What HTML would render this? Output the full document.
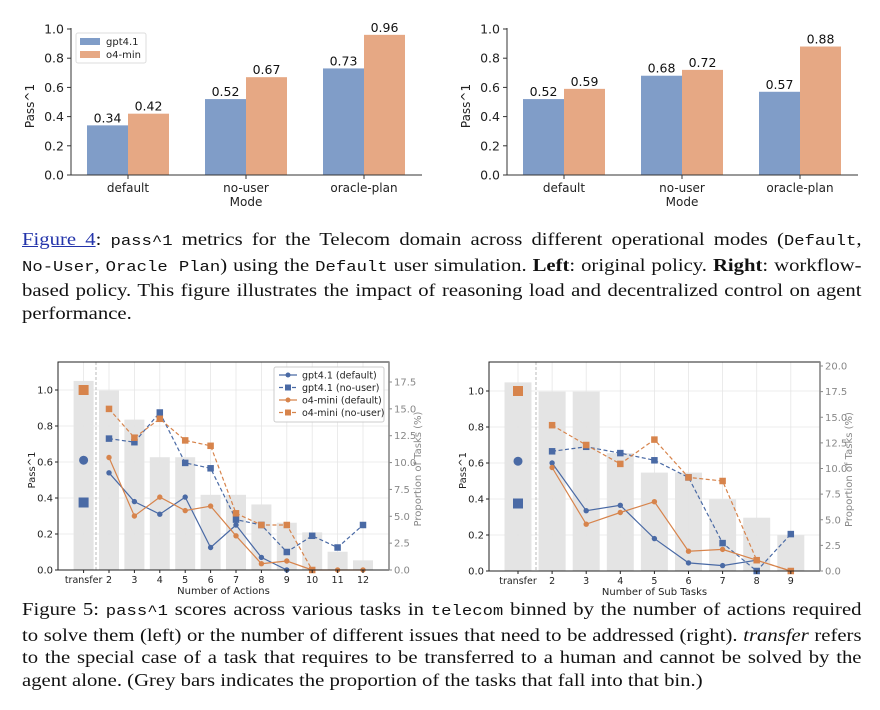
<!DOCTYPE html>
<html><head><meta charset="utf-8">
<style>
html,body{margin:0;padding:0;background:#fff;width:880px;height:710px;overflow:hidden;position:relative}
svg{position:absolute;left:0;top:0}
.cap{position:absolute;left:22px;width:730px;transform:scaleX(1.15);transform-origin:0 0;font-family:"Liberation Serif",serif;font-size:18px;color:#111;line-height:22.5px}
.cap div{text-align:justify;text-align-last:justify;white-space:nowrap}
.cap div.last{text-align-last:left}
.m{font-family:"Liberation Mono",monospace;font-size:15px}
a{color:#2233aa;text-decoration:underline}
</style></head><body>
<svg id="svg" width="880" height="710" font-family="DejaVu Sans, sans-serif"></svg>

<div class="cap" style="top:228px">
<div><a>Figure 4</a>: <span class="m">pass^1</span> metrics for the Telecom domain across different operational modes (<span class="m">Default</span>,</div>
<div><span class="m">No-User</span>, <span class="m">Oracle Plan</span>) using the <span class="m">Default</span> user simulation. <b>Left</b>: original policy. <b>Right</b>: workflow-</div>
<div>based policy. This figure illustrates the impact of reasoning load and decentralized control on agent</div>
<div class="last">performance.</div>
</div>
<div class="cap" style="top:598px">
<div>Figure 5: <span class="m">pass^1</span> scores across various tasks in <span class="m">telecom</span> binned by the number of actions required</div>
<div>to solve them (left) or the number of different issues that need to be addressed (right). <i>transfer</i> refers</div>
<div>to the special case of a task that requires to be transferred to a human and cannot be solved by the</div>
<div class="last">agent alone. (Grey bars indicates the proportion of the tasks that fall into that bin.)</div>
</div>

<script>
// ---- Figure 4 data ----
const modes = ["default","no-user","oracle-plan"];
const leftGpt = [0.34,0.52,0.73];
const leftO4 = [0.42,0.67,0.96];
const rightGpt = [0.52,0.68,0.57];
const rightO4 = [0.59,0.72,0.88];
const barTicks = [0,0.2,0.4,0.6,0.8,1.0];
// ---- Figure 5 left data ----
const actCats = ["transfer","2","3","4","5","6","7","8","9","10","11","12"];
const actProp = [17.6,16.7,14.0,10.5,10.5,7.0,7.0,6.1,4.4,3.5,1.7,0.9];
const actGptDef = [0.61,0.54,0.38,0.31,0.405,0.125,0.25,0.07,0.0,null,null,null];
const actGptNo = [0.375,0.73,0.71,0.875,0.595,0.565,0.28,0.25,0.10,0.19,0.125,0.25];
const actO4Def = [null,0.625,0.30,0.405,0.33,0.355,0.19,0.035,0.05,0.0,0.0,0.0];
const actO4No = [1.0,0.895,0.735,0.84,0.72,0.69,0.315,0.25,0.25,0.0,null,null];
// ---- Figure 5 right data ----
const subCats = ["transfer","2","3","4","5","6","7","8","9"];
const subProp = [18.4,17.5,17.5,11.5,9.6,9.6,7.0,5.2,3.5];
const subGptDef = [0.61,0.60,0.335,0.365,0.18,0.045,0.03,0.06,null];
const subGptNo = [0.375,0.665,0.69,0.655,0.615,0.52,0.155,0.0,0.205];
const subO4Def = [null,0.575,0.26,0.325,0.385,0.11,0.12,0.06,0.0];
const subO4No = [1.0,0.81,0.70,0.595,0.73,0.52,0.50,0.06,0.0];
const passTicks = [0,0.2,0.4,0.6,0.8,1.0];
const leftPropTicks = [0,2.5,5,7.5,10,12.5,15,17.5];
const rightPropTicks = [0,2.5,5,7.5,10,12.5,15,17.5,20];

const S = document.getElementById('svg');
const NS = 'http://www.w3.org/2000/svg';
function mk(tag, attrs, text){
  const e = document.createElementNS(NS, tag);
  for (const k in attrs) e.setAttribute(k, attrs[k]);
  if (text !== undefined) e.textContent = text;
  S.appendChild(e);
  return e;
}
const BLUE='#809dc8', ORANGE='#e6a884', LBLUE='#4a6aa5', LORANGE='#d7844c';

function barChart(ox, gpt, o4, pfx){
  const x0 = ox, x1 = ox+351, yb = 175, yt = 29;
  const y = v => yb - v*(yb-yt);
  const cx = i => ox + 57 + i*118;
  barTicks.forEach(t=>{
    const l = mk('line',{x1:x0-4,x2:x0,y1:y(t),y2:y(t),stroke:'#333'});
     
    const tx = mk('text',{x:x0-7,y:y(t)+4.5,'text-anchor':'end','font-size':12.5,fill:'#222'}, t.toFixed(1));
     
  });
  modes.forEach((m,i)=>{
    const c = cx(i);
    const b1 = mk('rect',{x:c-41,y:y(gpt[i]),width:41,height:yb-y(gpt[i]),fill:BLUE});
     
    const b2 = mk('rect',{x:c,y:y(o4[i]),width:41,height:yb-y(o4[i]),fill:ORANGE});
     
    const v1 = mk('text',{x:c-20.5,y:y(gpt[i])-3,'text-anchor':'middle','font-size':12.5,fill:'#111'}, gpt[i].toFixed(2));
     
    const v2 = mk('text',{x:c+20.5,y:y(o4[i])-3,'text-anchor':'middle','font-size':12.5,fill:'#111'}, o4[i].toFixed(2));
     
    const tk = mk('line',{x1:c,x2:c,y1:yb,y2:yb+4,stroke:'#333'});
     
    const tl = mk('text',{x:c,y:yb+17,'text-anchor':'middle','font-size':12,fill:'#222'}, m);
     
  });
  const ax = mk('line',{x1:x0,x2:x0,y1:yt-1,y2:yb,stroke:'#333','stroke-width':1});
   
  const bx = mk('line',{x1:x0,x2:x1,y1:yb,y2:yb,stroke:'#333','stroke-width':1});
   
  const xl = mk('text',{x:ox+175,y:206,'text-anchor':'middle','font-size':12,fill:'#222'}, 'Mode');
   
  const yl = mk('text',{x:0,y:0,'text-anchor':'middle','font-size':12,fill:'#222',transform:`translate(${ox-37},${(yb+yt)/2+4}) rotate(-90)`}, 'Pass^1');
   
}
barChart(71, leftGpt, leftO4, 'fig4-left');
barChart(507, rightGpt, rightO4, 'fig4-right');

const lg = mk('rect',{x:76,y:33,width:70,height:30,fill:'#fff',stroke:'#ddd',rx:2});
 
const lg1 = mk('rect',{x:80,y:38,width:20,height:7,fill:BLUE});
 
const lg1t = mk('text',{x:106,y:45,'font-size':10,fill:'#222'},'gpt4.1');
 
const lg2 = mk('rect',{x:80,y:51,width:20,height:7,fill:ORANGE});
 
const lg2t = mk('text',{x:106,y:58,'font-size':10,fill:'#222'},'o4-min');
 

function lineChart(cfg){
  const {L,R,T,B,y1,cx0,step,bw,pmax,cats,prop,series,pTicks,sep,xlabel,pfx,ylX,rlX} = cfg;
  const y = v => B - v*(B-y1);
  const yp = v => B - v*(B-pmax.y)/pmax.v;
  const x = i => cx0 + i*step;
  passTicks.forEach(t=>{
    const g = mk('line',{x1:L,x2:R,y1:y(t),y2:y(t),stroke:'#e6e6e6','stroke-width':0.8});
     
  });
  cats.forEach((c,i)=>{
    const g = mk('line',{x1:x(i),x2:x(i),y1:T,y2:B,stroke:'#e6e6e6','stroke-width':0.8});
     
  });
  cats.forEach((c,i)=>{
    const b = mk('rect',{x:x(i)-bw/2,y:yp(prop[i]),width:bw,height:B-yp(prop[i]),fill:'#e3e3e3','fill-opacity':0.95});
     
  });
  const sp = mk('line',{x1:sep,x2:sep,y1:T,y2:B,stroke:'#aaa','stroke-dasharray':'3,2','stroke-width':0.8});
   
  series.forEach(s=>{
    let pts=[];
    s.data.forEach((v,i)=>{ if(i>0 && v!==null) pts.push(x(i)+','+y(v)); });
    const pl = mk('polyline',{points:pts.join(' '),fill:'none',stroke:s.color,'stroke-width':1.2,'stroke-dasharray':s.dash?'4,2.5':'none'});
     
    s.data.forEach((v,i)=>{
      if(v===null) return;
      const big = i===0;
      let m;
      if(s.dash){ const sz = big?10:6.5; m = mk('rect',{x:x(i)-sz/2,y:y(v)-sz/2,width:sz,height:sz,fill:s.color}); }
      else { m = mk('circle',{cx:x(i),cy:y(v),r:big?4.5:2.7,fill:s.color}); }
       
    });
  });
  const fr = mk('rect',{x:L,y:T,width:R-L,height:B-T,fill:'none',stroke:'#222','stroke-width':1});
   
  const rs = mk('line',{x1:R,x2:R,y1:T,y2:B,stroke:'#888','stroke-width':1.6});
   
  passTicks.forEach(t=>{
    const tk = mk('line',{x1:L-3,x2:L,y1:y(t),y2:y(t),stroke:'#222'});
     
    const tl = mk('text',{x:L-5,y:y(t)+3.5,'text-anchor':'end','font-size':10,fill:'#222'}, t.toFixed(1));
     
  });
  pTicks.forEach(t=>{
    const tk = mk('line',{x1:R,x2:R+3,y1:yp(t),y2:yp(t),stroke:'#888'});
     
    const tl = mk('text',{x:R+5,y:yp(t)+3.5,'font-size':10,fill:'#888'}, t.toFixed(1));
     
  });
  cats.forEach((c,i)=>{
    const tk = mk('line',{x1:x(i),x2:x(i),y1:B,y2:B+3,stroke:'#222'});
     
    const tl = mk('text',{x:x(i),y:B+13,'text-anchor':'middle','font-size':9.5,fill:'#222'}, c);
     
  });
  const xl = mk('text',{x:(L+R)/2,y:B+24,'text-anchor':'middle','font-size':10,fill:'#222'}, xlabel);
   
  const yl = mk('text',{x:0,y:0,'text-anchor':'middle','font-size':10,fill:'#222',transform:`translate(${ylX},${(B+T)/2+4}) rotate(-90)`}, 'Pass^1');
   
  const rl = mk('text',{x:0,y:0,'text-anchor':'middle','font-size':10,fill:'#888',transform:`translate(${rlX},${(B+T)/2+3}) rotate(-90)`}, 'Proportion of Tasks (%)');
   
}

lineChart({L:58,R:389,T:362,B:570,y1:390,cx0:83.6,step:25.4,bw:20,pmax:{v:17.5,y:382},cats:actCats,prop:actProp,
  series:[{name:'gpt-default',data:actGptDef,color:LBLUE,dash:false},{name:'gpt-no-user',data:actGptNo,color:LBLUE,dash:true},
          {name:'o4-default',data:actO4Def,color:LORANGE,dash:false},{name:'o4-no-user',data:actO4No,color:LORANGE,dash:true}],
  pTicks:leftPropTicks,sep:96,xlabel:'Number of Actions',pfx:'fig5-left',ylX:35,rlX:421});
lineChart({L:489,R:820,T:362,B:571,y1:391,cx0:518,step:34.1,bw:27,pmax:{v:20,y:366},cats:subCats,prop:subProp,
  series:[{name:'gpt-default',data:subGptDef,color:LBLUE,dash:false},{name:'gpt-no-user',data:subGptNo,color:LBLUE,dash:true},
          {name:'o4-default',data:subO4Def,color:LORANGE,dash:false},{name:'o4-no-user',data:subO4No,color:LORANGE,dash:true}],
  pTicks:rightPropTicks,sep:536,xlabel:'Number of Sub Tasks',pfx:'fig5-right',ylX:466,rlX:852});

const lb = mk('rect',{x:274,y:367,width:110,height:55,fill:'#fff','fill-opacity':0.9,stroke:'#ccc',rx:2});
 
const legNames = ['gpt4.1 (default)','gpt4.1 (no-user)','o4-mini (default)','o4-mini (no-user)'];
legNames.forEach((n,i)=>{
  const yy = 375 + i*12.5;
  const col = i<2?LBLUE:LORANGE, dash = i%2===1;
  const l = mk('line',{x1:279,x2:297,y1:yy,y2:yy,stroke:col,'stroke-width':1.2,'stroke-dasharray':dash?'4,2.5':'none'});
   
  let m;
  if(dash) m = mk('rect',{x:285,y:yy-3,width:6,height:6,fill:col});
  else m = mk('circle',{cx:288,cy:yy,r:2.5,fill:col});
   
  const t = mk('text',{x:302,y:yy+3.5,'font-size':9.5,fill:'#222'}, n);
   
});
</script>
</body></html>
